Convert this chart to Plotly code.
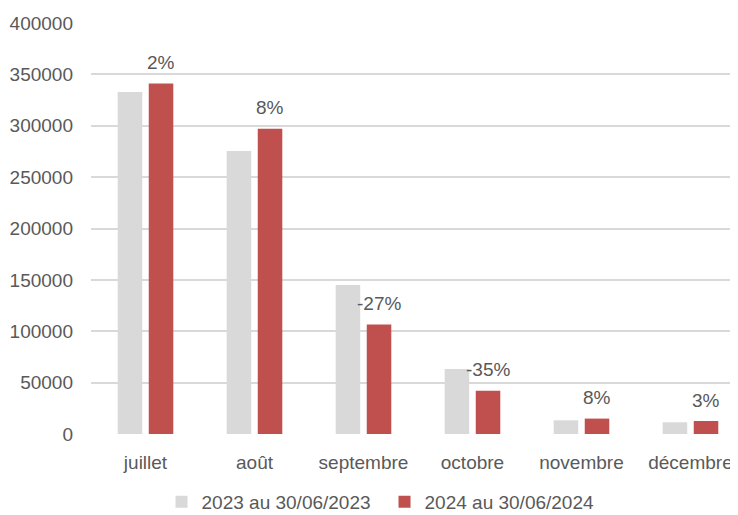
import plotly.graph_objects as go

months = ["juillet", "août", "septembre", "octobre", "novembre", "décembre"]
values_2023 = [332800, 275400, 145000, 63300, 13300, 11400]
values_2024 = [341000, 297200, 106500, 42200, 15000, 12650]
pct_labels = ["2%", "8%", "-27%", "-35%", "8%", "3%"]
y_ticks = [0, 50000, 100000, 150000, 200000, 250000, 300000, 350000, 400000]

TXT = "#595959"
FONT = "Liberation Sans"
FS = 19

fig = go.Figure()
fig.add_trace(go.Bar(x=months, y=values_2023, name="2023 au 30/06/2023",
                     marker=dict(color="#D9D9D9", line=dict(width=0))))
fig.add_trace(go.Bar(x=months, y=values_2024, name="2024 au 30/06/2024",
                     marker=dict(color="#C0504D", line=dict(width=0))))

for m, v, t in zip(months, values_2024, pct_labels):
    fig.add_annotation(x=m, y=v, xref="x", yref="y", text=t, showarrow=False,
                       xshift=15.5, yshift=21, yanchor="middle",
                       font=dict(family=FONT, size=FS, color=TXT))

fig.update_layout(
    width=730, height=507,
    margin=dict(l=83, r=0, t=15, b=81, autoexpand=False),
    paper_bgcolor="white", plot_bgcolor="white",
    barmode="group", bargap=0.43, bargroupgap=0.21,
    font=dict(family=FONT, size=FS, color=TXT),
    showlegend=True,
    legend=dict(orientation="h", x=0.109, xanchor="left", y=-0.1655, yanchor="middle",
                entrywidth=178, entrywidthmode="pixels",
                font=dict(family=FONT, size=FS, color=TXT), traceorder="normal"),
    xaxis=dict(range=[-0.5, 5.436], showgrid=False, zeroline=False, showline=False,
               ticks="", ticklabelstandoff=15, automargin=False,
               tickfont=dict(family=FONT, size=FS, color=TXT)),
    yaxis=dict(range=[0, 400000], tickvals=y_ticks, ticktext=[str(v) for v in y_ticks],
               showgrid=True, gridcolor="#D9D9D9", gridwidth=1.5, zeroline=False,
               showline=False, ticks="", ticklabelstandoff=17, automargin=False,
               tickfont=dict(family=FONT, size=FS, color=TXT)),
)

fig.write_html("out.html")
